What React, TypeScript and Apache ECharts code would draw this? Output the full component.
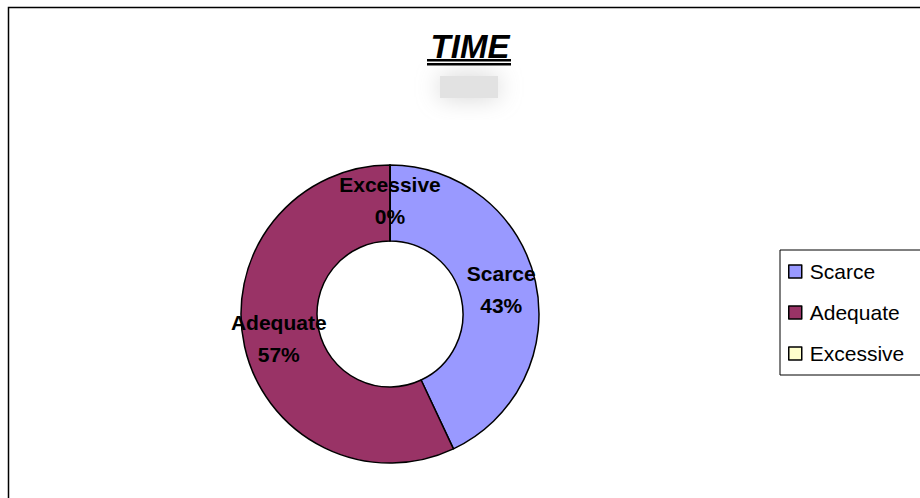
import React, { useEffect, useRef } from "react";
import * as echarts from "echarts";

const categories = ["Scarce", "Adequate", "Excessive"];
const values = [43, 57, 0];
const colors = ["#9999FF", "#993366", "#FFFFCC"];
const titleText = "TIME";

export default function App() {
  const ref = useRef<HTMLDivElement>(null);
  useEffect(() => {
    if (!ref.current) return;
    const chart = echarts.init(ref.current, null, { renderer: "svg" });
    chart.setOption({
      animation: false,
      backgroundColor: "#fff",
      legend: {
        orient: "vertical",
        left: 780,
        top: 250,
        data: categories,
        icon: "rect",
        itemWidth: 13,
        itemHeight: 13,
        itemGap: 20,
        padding: [11, 40, 11, 8],
        borderColor: "#000",
        borderWidth: 1,
        itemStyle: { borderColor: "#000", borderWidth: 1.5 },
        textStyle: {
          fontFamily: "Liberation Sans, Arial, sans-serif",
          fontSize: 21,
          color: "#000",
          padding: [0, 0, 0, 3],
        },
      },
      graphic: [
        {
          type: "rect",
          shape: { x: 8.5, y: 7.5, width: 1000, height: 700 },
          style: { fill: "none", stroke: "#000", lineWidth: 1.5 },
          silent: true,
        },
        {
          type: "rect",
          shape: { x: 440, y: 76, width: 58, height: 22 },
          style: { fill: "#e2e2e2", shadowBlur: 24, shadowColor: "#d4d4d4" },
          silent: true,
        },
        {
          type: "text",
          x: 470,
          y: 46,
          style: {
            text: titleText,
            fontFamily: "Liberation Sans, Arial, sans-serif",
            fontSize: 33,
            fontWeight: "bold",
            fontStyle: "italic",
            fill: "#000",
            align: "center",
            verticalAlign: "middle",
          },
        },
        {
          type: "rect",
          shape: { x: 427, y: 59, width: 84, height: 2.5 },
          style: { fill: "#000" },
          silent: true,
        },
        {
          type: "rect",
          shape: { x: 427, y: 63, width: 84, height: 2.5 },
          style: { fill: "#000" },
          silent: true,
        },
      ],
      series: [
        {
          type: "pie",
          center: [390, 314],
          radius: [73, 149],
          startAngle: 90,
          clockwise: true,
          percentPrecision: 0,
          avoidLabelOverlap: false,
          data: categories.map((c, i) => ({
            name: c,
            value: values[i],
            itemStyle: { color: colors[i] },
          })),
          itemStyle: { borderColor: "#000", borderWidth: 1.5 },
          label: {
            show: true,
            position: "inside",
            formatter: "{b}\n{d}%",
            fontFamily: "Liberation Sans, Arial, sans-serif",
            fontSize: 21,
            fontWeight: "bold",
            lineHeight: 32,
            color: "#000",
            textBorderWidth: 0,
          },
          labelLine: { show: false },
          emphasis: { disabled: true },
        },
      ],
    });
    return () => chart.dispose();
  }, []);
  return (
    <div
      ref={ref}
      style={{ position: "fixed", left: 0, top: 0, width: 920, height: 498 }}
    />
  );
}
